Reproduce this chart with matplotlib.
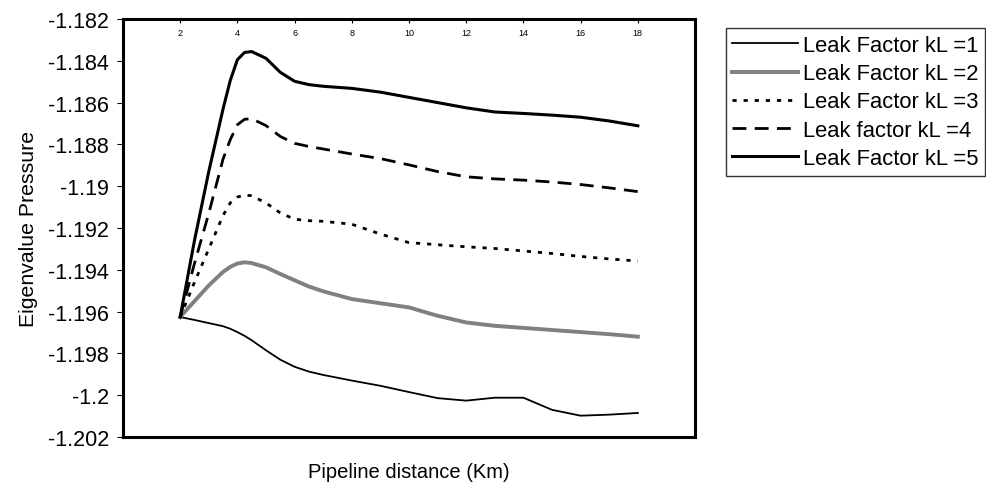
import matplotlib
matplotlib.use('Agg')
from matplotlib import pyplot as plt

# distance along pipeline (km)
distance = [2, 2.5, 3, 3.5, 3.75, 4, 4.25, 4.5, 5, 5.5, 6, 6.5, 7,
            8, 9, 10, 11, 12, 13, 14, 15, 16, 17, 18]

kl1 = [-1.19626, -1.19640, -1.19655, -1.19670, -1.19682, -1.19698, -1.19716, -1.19737,
       -1.19785, -1.19830, -1.19864, -1.19887, -1.19903, -1.19930, -1.19955, -1.19985,
       -1.20014, -1.20026, -1.20012, -1.20012, -1.20070, -1.20098, -1.20093, -1.20085]
kl2 = [-1.19626, -1.19550, -1.19475, -1.19410, -1.19386, -1.19370, -1.19364, -1.19368,
       -1.19388, -1.19420, -1.19450, -1.19480, -1.19503, -1.19540, -1.19560, -1.19580,
       -1.19620, -1.19652, -1.19668, -1.19678, -1.19688, -1.19698, -1.19708, -1.19720]
kl3 = [-1.19626, -1.19460, -1.19300, -1.19140, -1.19080, -1.19052, -1.19042, -1.19046,
       -1.19080, -1.19128, -1.19158, -1.19165, -1.19168, -1.19182, -1.19229, -1.19270,
       -1.19280, -1.19290, -1.19298, -1.19310, -1.19322, -1.19336, -1.19348, -1.19358]
kl4 = [-1.19626, -1.19370, -1.19130, -1.18870, -1.18778, -1.18706, -1.18680, -1.18677,
       -1.18710, -1.18762, -1.18795, -1.18810, -1.18822, -1.18846, -1.18868, -1.18898,
       -1.18930, -1.18955, -1.18965, -1.18971, -1.18980, -1.18992, -1.19008, -1.19026]
kl5 = [-1.19626, -1.19260, -1.18930, -1.18630, -1.18495, -1.18395, -1.18360, -1.18356,
       -1.18388, -1.18455, -1.18498, -1.18514, -1.18522, -1.18532, -1.18550, -1.18575,
       -1.18600, -1.18625, -1.18645, -1.18652, -1.18660, -1.18670, -1.18688, -1.18711]

labels = ['Leak Factor kL =1', 'Leak Factor kL =2', 'Leak Factor kL =3',
          'Leak factor kL =4', 'Leak Factor kL =5']

x_ticks = [0, 2, 4, 6, 8, 10, 12, 14, 16, 18, 20]
x_tick_labels = ['', '2', '4', '6', '8', '10', '12', '14', '16', '18', '']
y_ticks = [-1.182, -1.184, -1.186, -1.188, -1.19, -1.192, -1.194,
           -1.196, -1.198, -1.2, -1.202]
y_tick_labels = ['-1.182', '-1.184', '-1.186', '-1.188', '-1.19', '-1.192', '-1.194',
                 '-1.196', '-1.198', '-1.2', '-1.202']

plt.rcParams['font.family'] = ['Liberation Sans', 'DejaVu Sans']

fig = plt.figure(figsize=(9.86, 4.85), dpi=100)
ax = fig.add_axes([0.1247, 0.0969, 0.5802, 0.8619])

ax.plot(distance, kl1, color='black', lw=1.3, label=labels[0])
ax.plot(distance, kl2, color='#808080', lw=2.8, label=labels[1])
ax.plot(distance, kl3, color='black', lw=2.0, linestyle=(0, (1.5, 2.5)), label=labels[2])
ax.plot(distance, kl4, color='black', lw=2.0, linestyle=(0, (5, 3)), label=labels[3])
ax.plot(distance, kl5, color='black', lw=2.2, label=labels[4])

ax.set_xlim(0, 20)
ax.set_ylim(-1.202, -1.182)

ax.xaxis.tick_top()
ax.set_xticks(x_ticks)
ax.set_xticklabels(x_tick_labels)
ax.tick_params(axis='x', direction='in', length=3, pad=-13, labelsize=6.5)
ax.set_yticks(y_ticks)
ax.set_yticklabels(y_tick_labels)
ax.tick_params(axis='y', direction='out', length=4, pad=6, labelsize=15.5)

for s in ax.spines.values():
    s.set_linewidth(2.2)

ax.set_ylabel('Eigenvalue Pressure', fontsize=15.3, labelpad=7)
ax.set_xlabel('Pipeline distance (Km)', fontsize=14.5, labelpad=18)

leg = fig.legend(loc='upper left', bbox_to_anchor=(0.725, 0.962), fontsize=15.8,
                 handlelength=3.0, handletextpad=0.2, labelspacing=0.33,
                 borderpad=0.3, fancybox=False, framealpha=1)
leg.get_frame().set_edgecolor('#333333')
leg.get_frame().set_linewidth(1.0)

plt.savefig('out.png', dpi=100)
